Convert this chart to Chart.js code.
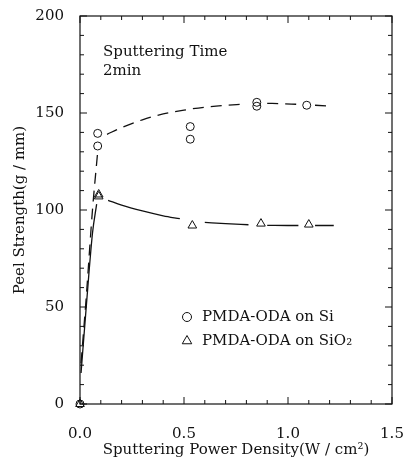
<!DOCTYPE html>
<html><head><meta charset="utf-8">
<script src="https://cdn.jsdelivr.net/npm/chart.js@4/dist/chart.umd.min.js"></script>
<style>html,body{margin:0;padding:0;background:#fff}#wrap{width:411px;height:464px}</style>
</head><body><div id="wrap"><canvas id="c" width="411" height="464"></canvas></div>
<script>
// Measured points
const siX = [0, 0.085, 0.085, 0.53, 0.53, 0.85, 0.85, 1.09];
const siY = [0, 139.5, 133, 143, 136.5, 155.5, 153.5, 154];
const sio2X = [0, 0.09, 0.09, 0.54, 0.87, 1.1];
const sio2Y = [0, 108, 107, 92, 93, 92.5];
// Fitted guide curves (null = gap)
const fitSiX = [0.005,0.03,0.06,0.085,0.1,0.13,0.2,0.3,0.4,0.5,0.6,0.7,0.78,0.8,0.9,0.97,1.04,1.07,1.13,1.2];
const fitSiY = [21,55,100,130,null,139,142.5,146.5,149.5,151.5,153,154,154.5,null,155,154.8,154.5,null,154,153.5];
const fitSiO2X = [0.005,0.03,0.06,0.08,0.1,0.135,0.2,0.3,0.4,0.48,0.5,0.6,0.7,0.81,0.85,0.9,1.0,1.05,1.08,1.13,1.22];
const fitSiO2Y = [16,50,88,103,null,105,102.5,99.5,97,95.5,null,93.6,93,92.4,null,92.1,92,92,null,92,92];
const xTicks = [0, 0.5, 1.0, 1.5];
const yTicks = [0, 50, 100, 150, 200];
const legendLabels = ['PMDA-ODA on Si', 'PMDA-ODA on SiO\u2082'];
const noteLines = ['Sputtering Time', '2min'];

const pts = (xs, ys) => xs.map((x, i) => ({x: x, y: ys[i]}));
const FONT = '"DejaVu Serif", "Liberation Serif", serif';
const FS = 15;

const frame = {
  id: 'frame',
  afterDraw(chart) {
    const ctx = chart.ctx, xs = chart.scales.x, ys = chart.scales.y, a = chart.chartArea;
    ctx.save();
    ctx.strokeStyle = '#111'; ctx.lineWidth = 1.2;
    ctx.strokeRect(a.left, a.top, a.right - a.left, a.bottom - a.top);
    ctx.lineWidth = 1;
    ctx.beginPath();
    for (let i = 0; i <= 15; i++) {
      const v = i / 10, px = xs.getPixelForValue(v), L = (i % 5 === 0) ? 7 : 4;
      ctx.moveTo(px, a.bottom); ctx.lineTo(px, a.bottom - L);
      ctx.moveTo(px, a.top); ctx.lineTo(px, a.top + L);
    }
    for (let i = 0; i <= 20; i++) {
      const v = i * 10, py = ys.getPixelForValue(v), L = (i % 5 === 0) ? 7 : 4;
      ctx.moveTo(a.left, py); ctx.lineTo(a.left + L, py);
      ctx.moveTo(a.right, py); ctx.lineTo(a.right - L, py);
    }
    ctx.stroke();
    // note text
    ctx.fillStyle = '#111'; ctx.font = FS + 'px ' + FONT; ctx.textBaseline = 'middle';
    ctx.fillText(noteLines[0], 103, 52);
    ctx.fillText(noteLines[1], 103, 71);
    // legend
    const items = [['circle', 4.5], ['triangle', 5.5]];
    items.forEach((it, i) => {
      const y = 317 + i * 24;
      ctx.fillStyle = 'rgba(0,0,0,0)';
      ctx.strokeStyle = '#111'; ctx.lineWidth = 1;
      Chart.helpers.drawPoint(ctx, {pointStyle: it[0], radius: it[1], borderWidth: 1}, 187, y);
      ctx.fillStyle = '#111';
      ctx.fillText(legendLabels[i], 202, y);
    });
    ctx.restore();
  }
};

new Chart(document.getElementById('c'), {
  type: 'scatter',
  data: {
    datasets: [
      {data: pts(siX, siY), pointStyle: 'circle', pointRadius: 4, borderColor: '#111', backgroundColor: 'rgba(0,0,0,0)', borderWidth: 1, showLine: false, clip: false},
      {data: pts(sio2X, sio2Y), pointStyle: 'triangle', pointRadius: 5, borderColor: '#111', backgroundColor: 'rgba(0,0,0,0)', borderWidth: 1, showLine: false, clip: false},
      {data: pts(fitSiX, fitSiY), showLine: true, pointRadius: 0, borderColor: '#111', borderWidth: 1.3, borderDash: [11, 7], cubicInterpolationMode: 'monotone', spanGaps: false},
      {data: pts(fitSiO2X, fitSiO2Y), showLine: true, pointRadius: 0, borderColor: '#111', borderWidth: 1.3, cubicInterpolationMode: 'monotone', spanGaps: false}
    ]
  },
  options: {
    responsive: false, animation: false,
    layout: {padding: {top: 16, right: 19, left: 0, bottom: 0}},
    plugins: {legend: {display: false}, tooltip: {enabled: false}},
    scales: {
      x: {
        type: 'linear', min: 0, max: 1.5,
        afterBuildTicks: s => { s.ticks = xTicks.map(v => ({value: v})); },
        ticks: {color: '#111', font: {family: FONT, size: FS}, padding: 13, maxRotation: 0, callback: v => v.toFixed(1)},
        grid: {display: false}, border: {display: false},
        title: {display: true, text: 'Sputtering Power Density(W / cm\u00b2)', color: '#111', font: {family: FONT, size: FS}, padding: {top: 4, bottom: 5}},
        afterFit: s => { s.height = 60; s.paddingLeft = 0; s.paddingRight = 0; }
      },
      y: {
        min: 0, max: 200,
        afterBuildTicks: s => { s.ticks = yTicks.map(v => ({value: v})); },
        ticks: {color: '#111', font: {family: FONT, size: FS}, padding: 8},
        grid: {display: false}, border: {display: false},
        title: {display: true, text: 'Peel Strength(g / mm)', color: '#111', font: {family: FONT, size: FS}, padding: 11},
        afterFit: s => { s.width = 80; s.paddingTop = 0; s.paddingBottom = 0; }
      }
    }
  },
  plugins: [frame]
});
</script></body></html>
